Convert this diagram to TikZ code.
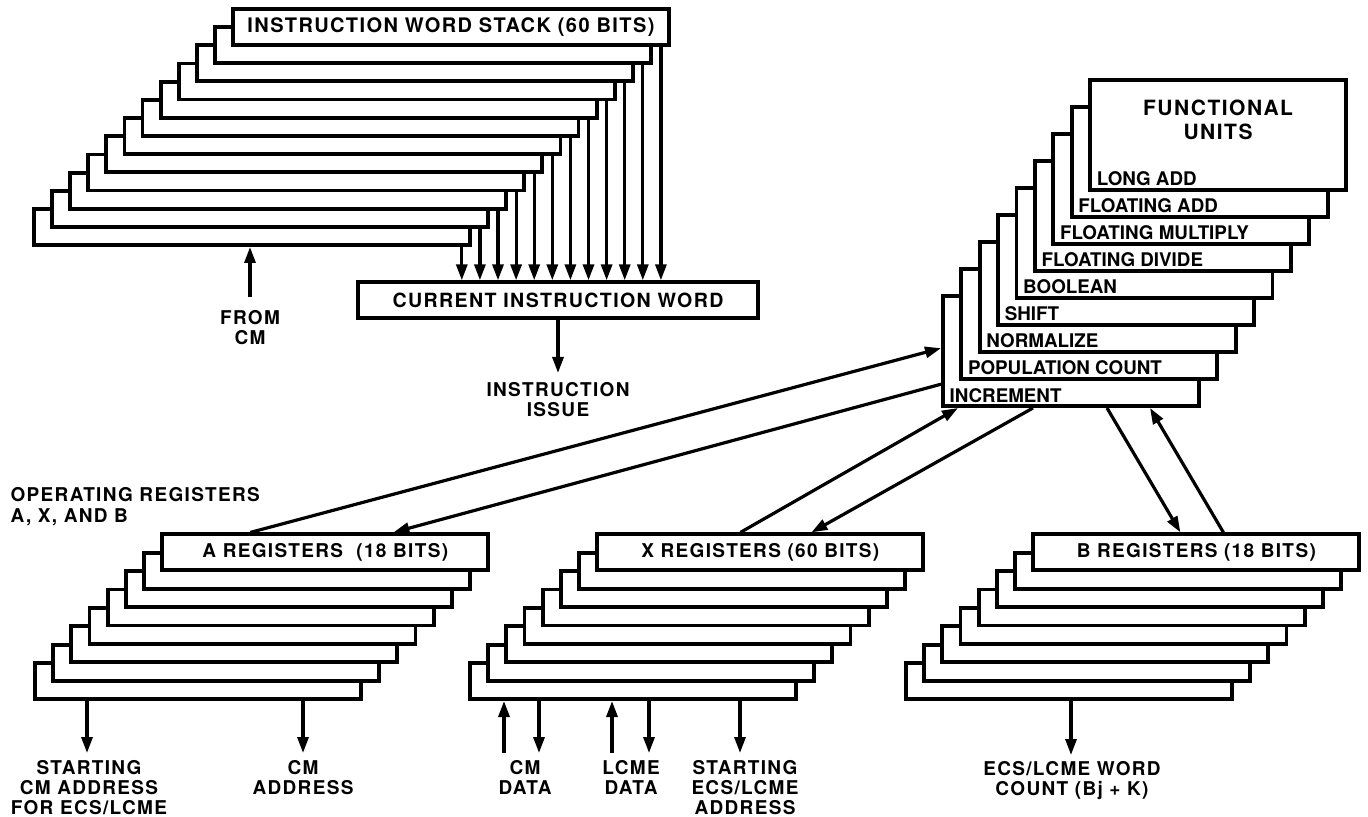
\documentclass[tikz,border=0pt]{standalone}
\usepackage{fontspec}
\setmainfont{TeX Gyre Heros}
\newfontfamily\wideheros{TeX Gyre Heros}[LetterSpace=7]
\usetikzlibrary{arrows.meta, calc, positioning}

\begin{document}
\begin{tikzpicture}[x=0.5pt, y=-0.5pt, line width=1.6pt]
    \tikzstyle{wordbox} = [rectangle, draw, fill=white, line width=1.9pt, anchor=south west, inner sep=0pt,
                           minimum width=218pt, minimum height=18pt,
                           font=\wideheros\bfseries\fontsize{10}{12}\selectfont]
    \tikzstyle{regbox} = [rectangle, draw, fill=white, line width=1.9pt, anchor=south west, inner sep=0pt,
                          minimum width=163pt, minimum height=18pt,
                          font=\wideheros\bfseries\fontsize{9.5}{11}\selectfont]
    \tikzstyle{fubox} = [rectangle, draw, fill=white, line width=1.9pt, anchor=south west, inner sep=0pt,
                         minimum width=128pt, minimum height=55pt]
    \tikzstyle{fulbl} = [anchor=base west, inner sep=0pt, font=\bfseries\fontsize{9.4}{11}\selectfont]
    \tikzstyle{lbl} = [anchor=north, align=center, inner sep=0pt,
                       font=\wideheros\bfseries\fontsize{9.5}{10}\selectfont]
    \tikzstyle{arr} = [-{Triangle[length=8pt, width=5.5pt]}]

    \useasboundingbox (0,0) rectangle (1368,817);

    % instruction word stack
    \foreach \i in {0,...,10}
        \node (iw\i) [wordbox] at (32+18.1*\i, 247-18.2*\i) {};
    \node (iw11) [wordbox] at (32+18.1*11, 247-18.2*11) {INSTRUCTION WORD STACK (60 BITS)};

    \node (ciw) [rectangle, draw, line width=1.7pt, minimum width=200pt, minimum height=18pt, inner sep=0pt,
                 font=\wideheros\bfseries\fontsize{9.8}{12}\selectfont] at (558,300) {CURRENT INSTRUCTION WORD};

    \foreach \i in {0,...,11}
        \draw [arr] let \p1=([xshift=-5pt]iw\i.south east), \p2=(ciw.north) in (\p1) -- (\x1,\y2);

    \node (fromcm) [lbl] at (250,308.5) {FROM\\CM};
    \coordinate (fromcm-tail) at (250,297);
    \draw [arr] (fromcm-tail) -- (fromcm-tail |- iw0.south);

    \node (issue) [lbl] at (558,381) {INSTRUCTION\\ISSUE};
    \coordinate (issue-tip) at (558,373);
    \draw [arr] (issue-tip |- ciw.south) -- (issue-tip);

    % functional units
    \foreach \k/\unit in {0/INCREMENT, 1/POPULATION COUNT, 2/NORMALIZE, 3/SHIFT, 4/BOOLEAN,
                          5/FLOATING DIVIDE, 6/FLOATING MULTIPLY, 7/FLOATING ADD, 8/LONG ADD} {
        \node (fu\k) [fubox] at (941+18.4*\k, 408-27*\k) {};
        \node (fulbl\k) [fulbl] at ([xshift=3.5pt, yshift=3pt]fu\k.south west) {\unit};
    }
    \node (fuhead) [align=center, inner sep=0pt, font=\wideheros\bfseries\fontsize{10.5}{12}\selectfont]
        at ([yshift=-21pt]fu8.north) {FUNCTIONAL\\UNITS};

    % operating registers
    \node (opreg) [lbl, anchor=north west, align=left, font=\wideheros\bfseries\fontsize{9.5}{10.5}\selectfont]
        at (9,485.5) {OPERATING REGISTERS\\A, X, AND B};

    \foreach \j in {0,...,6} {
        \node (a\j) [regbox] at (33+18.2*\j, 701-18.4*\j) {};
        \node (x\j) [regbox] at (468+18.2*\j, 701-18.4*\j) {};
        \node (b\j) [regbox] at (904+18.2*\j, 701-18.4*\j) {};
    }
    \node (a7) [regbox] at (33+18.2*7, 701-18.4*7) {A REGISTERS\ \ (18 BITS)};
    \node (x7) [regbox] at (468+18.2*7, 701-18.4*7) {X REGISTERS (60 BITS)};
    \node (b7) [regbox] at (904+18.2*7, 701-18.4*7) {B REGISTERS (18 BITS)};

    \draw [arr] ([xshift=45pt]a7.north west) -- ([yshift=-27pt]fu0.north west);
    \draw [arr] ([yshift=-45pt]fu0.north west) -- ([xshift=116.5pt]a7.north west);
    \draw [arr] ([xshift=72.5pt]x7.north west) -- ([xshift=8.5pt]fu0.south west);
    \draw [arr] ([xshift=46pt]fu0.south west) -- ([xshift=108pt]x7.north west);
    \draw [arr] ([xshift=83pt]fu0.south west) -- ([xshift=74.5pt]b7.north west);
    \draw [arr] ([xshift=96pt]b7.north west) -- ([xshift=104.5pt]fu0.south west);

    % register inputs and outputs
    \node (startcm) [lbl] at (89,759) {STARTING\\CM ADDRESS\\FOR ECS/LCME};
    \node (cmaddr) [lbl] at (303,759) {CM\\ADDRESS};
    \node (cmdata) [lbl] at (525,759) {CM\\DATA};
    \node (lcmedata) [lbl] at (631,759) {LCME\\DATA};
    \node (startecs) [lbl] at (745,759) {STARTING\\ECS/LCME\\ADDRESS};
    \node (wcount) [lbl] at (1072,760) {ECS/LCME WORD\\COUNT (Bj + K)};

    \coordinate (sa-tip) at (87,753);
    \coordinate (ca-tip) at (303,753);
    \coordinate (cmd-in) at (504,753);
    \coordinate (cmd-out) at (539,753);
    \coordinate (lcd-in) at (612,753);
    \coordinate (lcd-out) at (649,753);
    \coordinate (se-tip) at (740,753);
    \coordinate (wc-tip) at (1071,755);

    \draw [arr] (sa-tip |- a0.south) -- (sa-tip);
    \draw [arr] (ca-tip |- a0.south) -- (ca-tip);
    \draw [arr] (cmd-in) -- (cmd-in |- x0.south);
    \draw [arr] (cmd-out |- x0.south) -- (cmd-out);
    \draw [arr] (lcd-in) -- (lcd-in |- x0.south);
    \draw [arr] (lcd-out |- x0.south) -- (lcd-out);
    \draw [arr] (se-tip |- x0.south) -- (se-tip);
    \draw [arr] (wc-tip |- b0.south) -- (wc-tip);
\end{tikzpicture}
\end{document}
